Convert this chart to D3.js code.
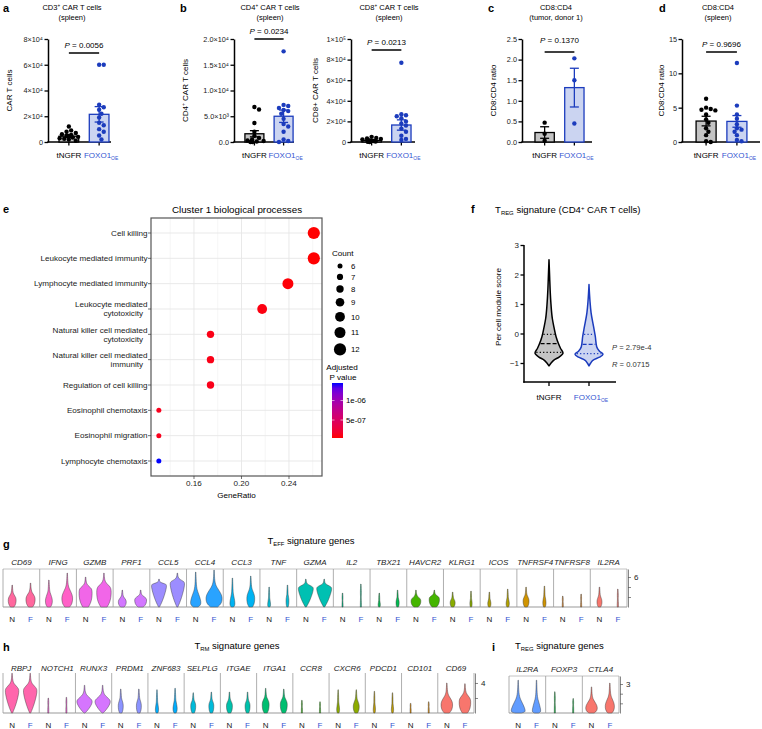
<!DOCTYPE html>
<html><head><meta charset="utf-8">
<script src="https://cdn.jsdelivr.net/npm/d3@7"></script>
<style>body{margin:0;background:#fff}svg{font-family:"Liberation Sans",Arial,sans-serif}</style>
</head><body>
<svg id="fig" width="762" height="729"></svg>
<script>
// ---------------- DATA ----------------
const groups = ["tNGFR", "FOXO1"];
// a: CD3+ CAR T cells (x10^4)
const aTicks = [0, 2, 4, 6, 8];
const aTickLabels = ["0", "2×10⁴", "4×10⁴", "6×10⁴", "8×10⁴"];
const aMeans = [0.45, 2.15];
const aSems = [0.1, 0.6];
const aDotsN = [1.2, 0.9, 0.8, 0.7, 0.6, 0.55, 0.5, 0.45, 0.4, 0.35, 0.3, 0.25, 0.2, 0.1];
const aDotsF = [6.0, 6.0, 2.9, 2.7, 2.5, 2.2, 1.9, 1.5, 1.3, 1.0, 0.8, 0.5, 0.2];
// b: CD4+ CAR T cells (x10^4)
const b4Ticks = [0, 0.5, 1.0, 1.5, 2.0];
const b4TickLabels = ["0.0", "5.0×10³", "1.0×10⁴", "1.5×10⁴", "2.0×10⁴"];
const b4Means = [0.16, 0.5];
const b4Sems = [0.06, 0.12];
const b4DotsN = [0.68, 0.63, 0.37, 0.2, 0.12, 0.08, 0.05, 0.03, 0.02, 0.01, 0.0, 0.0];
const b4DotsF = [1.76, 0.72, 0.7, 0.66, 0.62, 0.6, 0.55, 0.45, 0.35, 0.3, 0.2, 0.05, 0.02, 0.0];
// b: CD8+ CAR T cells (x10^4)
const b8Ticks = [0, 2, 4, 6, 8, 10];
const b8TickLabels = ["0", "2×10⁴", "4×10⁴", "6×10⁴", "8×10⁴", "1×10⁵"];
const b8Means = [0.15, 1.65];
const b8Sems = [0.05, 0.5];
const b8DotsN = [0.5, 0.4, 0.35, 0.3, 0.25, 0.2, 0.15, 0.1, 0.1, 0.05, 0.02, 0.0];
const b8DotsF = [7.7, 2.7, 2.6, 2.5, 2.3, 2.0, 1.8, 1.6, 1.3, 1.0, 0.6, 0.3, 0.2];
// c: CD8:CD4 tumor
const cTicks = [0, 0.5, 1.0, 1.5, 2.0, 2.5];
const cTickLabels = ["0.0", "0.5", "1.0", "1.5", "2.0", "2.5"];
const cMeans = [0.23, 1.32];
const cSems = [0.14, 0.47];
const cDotsN = [0.47, 0.2, 0.03];
const cDotsF = [2.03, 1.5, 0.45];
// d: CD8:CD4 spleen
const dTicks = [0, 5, 10, 15];
const dTickLabels = ["0", "5", "10", "15"];
const dMeans = [3.05, 3.0];
const dSems = [0.7, 0.85];
const dDotsN = [6.3, 5.0, 4.8, 4.7, 4.6, 4.0, 3.3, 2.8, 2.0, 1.5, 1.0, 0.1, 0.0];
const dDotsF = [11.5, 5.3, 4.0, 3.4, 2.6, 2.0, 1.8, 1.5, 1.0, 0.3, 0.1];
const pValues = ["0.0056", "0.0234", "0.0213", "0.1370", "0.9696"];

// e: GO dot plot
const eCats = ["Cell killing", "Leukocyte mediated immunity", "Lymphocyte mediated immunity",
  "Leukocyte mediated|cytotoxicity", "Natural killer cell mediated|cytotoxicity",
  "Natural killer cell mediated|immunity", "Regulation of cell killing",
  "Eosinophil chemotaxis", "Eosinophil migration", "Lymphocyte chemotaxis"];
const eRatio = [0.2609, 0.2609, 0.2391, 0.2174, 0.1739, 0.1739, 0.1739, 0.1304, 0.1304, 0.1304];
const eCount = [12, 12, 11, 10, 8, 8, 8, 6, 6, 6];
const ePadj = [3.9e-8, 4.2e-8, 5.5e-8, 8.0e-8, 9.5e-8, 1.0e-7, 1.1e-7, 1.2e-7, 1.2e-7, 1.45e-6];
const eXTicks = [0.16, 0.20, 0.24];
const eXMinor = [0.14, 0.18, 0.22, 0.26];
const eCountLegend = [6, 7, 8, 9, 10, 11, 12];
const ePLegend = [5e-7, 1e-6];
const ePLegendLabels = ["5e-07", "1e-06"];

// f: TREG signature violins (value, relative half-width)
const fTicks = [-1, 0, 1, 2, 3];
const fProfileN = [[-1.1, 0], [-1.0, 0.15], [-0.9, 0.35], [-0.8, 0.72], [-0.66, 1.0], [-0.5, 0.82],
  [-0.35, 0.68], [-0.1, 0.5], [0.2, 0.36], [0.5, 0.24], [1.0, 0.14], [1.5, 0.08], [2.0, 0.04], [2.5, 0]];
const fProfileF = [[-1.1, 0], [-1.0, 0.12], [-0.9, 0.3], [-0.8, 0.75], [-0.7, 1.0], [-0.6, 0.75],
  [-0.45, 0.55], [-0.1, 0.45], [0.25, 0.32], [0.7, 0.15], [1.1, 0.07], [1.66, 0]];
const fMedian = [-0.34, -0.37];
const fQ1 = [-0.64, -0.68];
const fQ3 = [-0.03, -0.03];

// g: TEFF signature genes (N = tNGFR, F = FOXO1OE)
const gGenes = ["CD69", "IFNG", "GZMB", "PRF1", "CCL5", "CCL4", "CCL3", "TNF", "GZMA", "IL2", "TBX21",
  "HAVCR2", "KLRG1", "ICOS", "TNFRSF4", "TNFRSF8", "IL2RA"];
const gTopN = [4.4, 5.4, 6.0, 3.4, 5.6, 7.0, 5.8, 4.0, 5.6, 2.8, 2.8, 3.4, 3.0, 3.0, 4.0, 2.2, 4.0];
const gBodyN = [1.6, 1.4, 3.4, 1.2, 4.4, 1.0, 0.8, 0.5, 3.8, 0.5, 0.5, 1.4, 1.0, 0.8, 1.4, 0.5, 1.2];
const gWidN = [0.47, 0.41, 0.79, 0.47, 0.98, 0.62, 0.29, 0.16, 0.98, 0.05, 0.12, 0.59, 0.29, 0.18, 0.35, 0.05, 0.29];
const gTopF = [4.8, 6.8, 6.8, 3.4, 6.8, 7.4, 6.2, 4.4, 5.6, 4.6, 3.4, 3.4, 3.2, 3.6, 4.2, 2.6, 3.6];
const gBodyF = [1.8, 2.0, 3.6, 1.6, 4.8, 2.0, 2.0, 1.4, 3.8, 0.5, 1.0, 1.8, 0.8, 0.8, 1.0, 0.5, 0.5];
const gWidF = [0.55, 0.65, 0.88, 0.72, 0.94, 0.98, 0.47, 0.16, 0.98, 0.05, 0.18, 0.62, 0.12, 0.18, 0.18, 0.05, 0.06];
const gAxisTicks = [2, 4, 6];
// h: TRM signature genes
const hGenes = ["RBPJ", "NOTCH1", "RUNX3", "PRDM1", "ZNF683", "SELPLG", "ITGAE", "ITGA1", "CCR8", "CXCR6",
  "PDCD1", "CD101", "CD69"];
const hTopN = [5.3, 2.0, 3.7, 3.2, 3.1, 2.7, 2.8, 3.3, 1.7, 3.1, 2.9, 1.3, 4.0];
const hBodyN = [3.0, 0.5, 1.5, 1.1, 0.5, 1.1, 1.1, 1.3, 0.5, 0.5, 0.5, 0.5, 1.3];
const hWidN = [0.88, 0.05, 1.0, 0.29, 0.18, 0.29, 0.35, 0.41, 0.05, 0.16, 0.12, 0.05, 0.7];
const hTopF = [5.3, 2.1, 3.7, 3.2, 3.3, 2.8, 2.8, 3.2, 1.5, 3.1, 2.7, 1.5, 3.9];
const hBodyF = [3.0, 0.5, 1.5, 1.1, 0.7, 1.1, 1.1, 1.3, 0.5, 1.0, 0.5, 0.5, 1.7];
const hWidF = [0.88, 0.05, 1.0, 0.29, 0.24, 0.29, 0.29, 0.41, 0.05, 0.35, 0.12, 0.05, 0.7];
const hAxisTicks = [2, 4];
// i: TREG signature genes
const iGenes = ["IL2RA", "FOXP3", "CTLA4"];
const iTopN = [3.4, 2.2, 2.7];
const iBodyN = [0.25, 0.5, 0.6];
const iWidN = [0.85, 0.05, 0.7];
const iTopF = [3.4, 1.5, 3.1];
const iBodyF = [0.25, 0.5, 0.8];
const iWidF = [0.5, 0.05, 0.55];
const iAxisTicks = [1, 2, 3];
const vShaped = ["CCL5", "GZMA", "RBPJ", "RUNX3"];

// ---------------- HELPERS ----------------
const svg = d3.select("#fig");
const BLUE = "#1c3cbd", BLUE_TXT = "#3454d1", BLUE_FILL = "#cbd4f1", GRAY_FILL = "#c4c4c4";

function rich(parent, x, y, parts, attrs) {
  const t = parent.append("text").attr("x", x).attr("y", y);
  for (const k in (attrs || {})) t.attr(k, attrs[k]);
  let shift = 0;
  parts.forEach(p => {
    const s = t.append("tspan").text(p.t);
    const target = p.sub ? 2 : (p.sup ? -3 : 0);
    if (target !== shift) { s.attr("dy", target - shift); shift = target; }
    if (p.sub || p.sup) s.attr("font-size", "0.62em");
    if (p.italic) s.attr("font-style", "italic");
    if (p.fill) s.attr("fill", p.fill);
  });
  return t;
}
function letter(ch, x, y) {
  svg.append("text").attr("x", x).attr("y", y).attr("font-size", 11).attr("font-weight", "bold").text(ch);
}
function swarm(vals, yScale, r, maxOff) {
  const placed = [];
  return vals.map((v, idx) => {
    const py = yScale(v);
    let off = null;
    for (let k = 0; k < 30; k++) {
      const cand = k === 0 ? 0 : (k % 2 ? 1 : -1) * Math.ceil(k / 2) * r * 1.05;
      if (Math.abs(cand) > maxOff) break;
      if (placed.every(p => (p.x - cand) ** 2 + (p.y - py) ** 2 >= (2 * r * 0.92) ** 2)) { off = cand; break; }
    }
    if (off === null) off = ((idx % 5) - 2) * r * 0.9;
    placed.push({ x: off, y: py });
    return off;
  });
}
function hueColor(h) {
  const L = 65, C = 100, hr = h * Math.PI / 180;
  const u = C * Math.cos(hr), v = C * Math.sin(hr);
  const Xn = 95.047, Yn = 100, Zn = 108.883;
  const den = Xn + 15 * Yn + 3 * Zn, un = 4 * Xn / den, vn = 9 * Yn / den;
  const Y = Yn * Math.pow((L + 16) / 116, 3);
  const up = u / (13 * L) + un, vp = v / (13 * L) + vn;
  const X = Y * 9 * up / (4 * vp), Z = Y * (12 - 3 * up - 20 * vp) / (4 * vp);
  const x = X / 100, y = Y / 100, z = Z / 100;
  const r = 3.2404542 * x - 1.5371385 * y - 0.4985314 * z;
  const g = -0.9692660 * x + 1.8760108 * y + 0.0415560 * z;
  const b = 0.0556434 * x - 0.2040259 * y + 1.0572252 * z;
  const gam = c => { c = c <= 0.0031308 ? 12.92 * c : 1.055 * Math.pow(c, 1 / 2.4) - 0.055; return Math.round(255 * Math.max(0, Math.min(1, c))); };
  return d3.rgb(gam(r), gam(g), gam(b)).formatHex();
}

// ---------------- BAR PANELS ----------------
function barPanel(o) {
  const g = svg.append("g");
  const y = d3.scaleLinear().domain([0, o.max]).range([142, 39]);
  const x = d3.scaleBand().domain(groups).range(o.band).paddingInner(0.35).paddingOuter(0.1);
  const cx = d => x(d) + x.bandwidth() / 2;
  const ax = g.append("g").attr("transform", `translate(${o.axisX},0)`)
    .call(d3.axisLeft(y).tickValues(o.ticks).tickFormat((d, i) => o.tickLabels[i]).tickSize(3.5).tickSizeOuter(0));
  ax.select(".domain").attr("stroke-width", 1.5);
  ax.selectAll(".tick line").attr("stroke-width", 1.3);
  ax.selectAll("text").attr("font-size", 7.3).attr("font-family", "Liberation Sans, Arial").attr("fill", "#222").attr("x", -5);
  g.append("line").attr("x1", o.axisX - 0.75).attr("x2", o.axisEnd).attr("y1", y(0)).attr("y2", y(0))
    .attr("stroke", "#000").attr("stroke-width", 1.5);
  g.selectAll(".xt").data(groups).join("line").attr("x1", cx).attr("x2", cx)
    .attr("y1", y(0)).attr("y2", y(0) + 3.5).attr("stroke", "#000").attr("stroke-width", 1.3);
  const dots = [o.dotsN, o.dotsF];
  groups.forEach((grp, i) => {
    const col = i ? BLUE : "#000";
    g.append("rect").attr("x", x(grp)).attr("width", x.bandwidth()).attr("y", y(o.means[i]))
      .attr("height", y(0) - y(o.means[i])).attr("fill", i ? BLUE_FILL : GRAY_FILL).attr("stroke", col).attr("stroke-width", 1.3);
    const offs = swarm(dots[i], y, 2.2, x.bandwidth() / 2 + 1);
    g.selectAll(".dot" + i).data(dots[i]).join("circle").attr("cx", (d, j) => cx(grp) + offs[j]).attr("cy", d => y(d))
      .attr("r", 2.2).attr("fill", col);
    const lo = Math.max(0, o.means[i] - o.sems[i]), hi = o.means[i] + o.sems[i];
    g.append("line").attr("x1", cx(grp)).attr("x2", cx(grp)).attr("y1", y(lo)).attr("y2", y(hi)).attr("stroke", col).attr("stroke-width", 1.3);
    [lo, hi].forEach(v => g.append("line").attr("x1", cx(grp) - 4.5).attr("x2", cx(grp) + 4.5).attr("y1", y(v)).attr("y2", y(v))
      .attr("stroke", col).attr("stroke-width", 1.3));
  });
  g.append("text").attr("x", cx("tNGFR")).attr("y", 158).attr("text-anchor", "middle").attr("font-size", 8).text("tNGFR");
  rich(g, cx("FOXO1") + 2, 158, [{ t: "FOXO1" }, { t: "OE", sub: true }], { "text-anchor": "middle", "font-size": 8, fill: BLUE_TXT });
  g.append("line").attr("x1", cx("tNGFR")).attr("x2", cx("FOXO1")).attr("y1", o.brY).attr("y2", o.brY).attr("stroke", "#000").attr("stroke-width", 1.5);
  rich(g, (cx("tNGFR") + cx("FOXO1")) / 2, o.pY, [{ t: "P", italic: true }, { t: " = " + o.p }], { "text-anchor": "middle", "font-size": 8 });
  o.title.forEach((line, k) => rich(g, o.titleX, 10 + k * 10, line, { "text-anchor": "middle", "font-size": 7.5 }));
  const yl = g.append("g").attr("transform", `translate(${o.ylabX},${(39 + 142) / 2}) rotate(-90)`);
  rich(yl, 0, 0, o.ylab, { "text-anchor": "middle", "font-size": 8 });
}

barPanel({ max: 8, ticks: aTicks, tickLabels: aTickLabels, means: aMeans, sems: aSems, dotsN: aDotsN, dotsF: aDotsF,
  axisX: 48, axisEnd: 111, band: [56, 112], p: pValues[0], pY: 48, brY: 53, titleX: 72,
  title: [[{ t: "CD3" }, { t: "+", sup: true }, { t: " CAR T cells" }], [{ t: "(spleen)" }]],
  ylab: [{ t: "CAR T cells" }], ylabX: 12 });
barPanel({ max: 2, ticks: b4Ticks, tickLabels: b4TickLabels, means: b4Means, sems: b4Sems, dotsN: b4DotsN, dotsF: b4DotsF,
  axisX: 234, axisEnd: 294, band: [242, 296], p: pValues[1], pY: 34, brY: 39, titleX: 270,
  title: [[{ t: "CD4" }, { t: "+", sup: true }, { t: " CAR T cells" }], [{ t: "(spleen)" }]],
  ylab: [{ t: "CD4" }, { t: "+", sup: true }, { t: " CAR T cells" }], ylabX: 188 });
barPanel({ max: 10, ticks: b8Ticks, tickLabels: b8TickLabels, means: b8Means, sems: b8Sems, dotsN: b8DotsN, dotsF: b8DotsF,
  axisX: 351, axisEnd: 415, band: [359, 414], p: pValues[2], pY: 45, brY: 50, titleX: 389,
  title: [[{ t: "CD8" }, { t: "+", sup: true }, { t: " CAR T cells" }], [{ t: "(spleen)" }]],
  ylab: [{ t: "CD8+ CAR T cells" }], ylabX: 318 });
barPanel({ max: 2.5, ticks: cTicks, tickLabels: cTickLabels, means: cMeans, sems: cSems, dotsN: cDotsN, dotsF: cDotsF,
  axisX: 522, axisEnd: 592, band: [532, 587], p: pValues[3], pY: 43, brY: 52, titleX: 556,
  title: [[{ t: "CD8:CD4" }], [{ t: "(tumor, donor 1)" }]],
  ylab: [{ t: "CD8:CD4 ratio" }], ylabX: 496 });
barPanel({ max: 15, ticks: dTicks, tickLabels: dTickLabels, means: dMeans, sems: dSems, dotsN: dDotsN, dotsF: dDotsF,
  axisX: 682, axisEnd: 760, band: [693, 750], p: pValues[4], pY: 47, brY: 52, titleX: 718,
  title: [[{ t: "CD8:CD4" }], [{ t: "(spleen)" }]],
  ylab: [{ t: "CD8:CD4 ratio" }], ylabX: 664 });

letter("a", 3, 12); letter("b", 180, 12); letter("c", 488, 12); letter("d", 659, 12);

// ---------------- PANEL E ----------------
(function () {
  const g = svg.append("g");
  const L = 151, R = 322, T = 218, B = 476;
  const FS = 8.1;
  const x = d3.scaleLinear().domain([0.1238, 0.2678]).range([L, R]);
  const y = d3.scalePoint().domain(eCats).range([233, 461]);
  const size = d3.scaleLinear().domain([6, 12]).range([2.5, 6.1]);
  const pmin = d3.min(ePadj), pmax = d3.max(ePadj);
  const color = d3.scaleLinear().domain([pmin, pmax]).range(["#ff0000", "#0000ff"]).interpolate(d3.interpolateLab);
  g.append("rect").attr("x", L).attr("y", T).attr("width", R - L).attr("height", B - T).attr("fill", "#fff");
  eXMinor.forEach(v => g.append("line").attr("x1", x(v)).attr("x2", x(v)).attr("y1", T).attr("y2", B).attr("stroke", "#f0f0f0").attr("stroke-width", 0.6));
  eXTicks.forEach(v => g.append("line").attr("x1", x(v)).attr("x2", x(v)).attr("y1", T).attr("y2", B).attr("stroke", "#e6e6e6").attr("stroke-width", 0.9));
  eCats.forEach(c => g.append("line").attr("x1", L).attr("x2", R).attr("y1", y(c)).attr("y2", y(c)).attr("stroke", "#e6e6e6").attr("stroke-width", 0.9));
  g.append("rect").attr("x", L).attr("y", T).attr("width", R - L).attr("height", B - T).attr("fill", "none").attr("stroke", "#555").attr("stroke-width", 1.2);
  g.selectAll(".pt").data(eCats).join("circle").attr("cx", (d, i) => x(eRatio[i])).attr("cy", d => y(d))
    .attr("r", (d, i) => size(eCount[i])).attr("fill", (d, i) => color(ePadj[i]));
  eCats.forEach(c => {
    const lines = c.split("|");
    g.append("line").attr("x1", L - 3).attr("x2", L).attr("y1", y(c)).attr("y2", y(c)).attr("stroke", "#333").attr("stroke-width", 0.7);
    if (lines.length === 1) {
      g.append("text").attr("x", L - 3.5).attr("y", y(c) + 2.8).attr("text-anchor", "end").attr("font-size", FS).attr("fill", "#222").text(lines[0]);
    } else {
      g.append("text").attr("x", L - 3.5).attr("y", y(c) - 1.8).attr("text-anchor", "end").attr("font-size", FS).attr("fill", "#222").text(lines[0]);
      g.append("text").attr("x", L - 8).attr("y", y(c) + 7.3).attr("text-anchor", "end").attr("font-size", FS).attr("fill", "#222").text(lines[1]);
    }
  });
  eXTicks.forEach(v => {
    g.append("line").attr("x1", x(v)).attr("x2", x(v)).attr("y1", B).attr("y2", B + 3).attr("stroke", "#333").attr("stroke-width", 0.7);
    g.append("text").attr("x", x(v)).attr("y", B + 10).attr("text-anchor", "middle").attr("font-size", FS).attr("fill", "#222").text(v.toFixed(2));
  });
  g.append("text").attr("x", (L + R) / 2).attr("y", 498).attr("text-anchor", "middle").attr("font-size", FS).text("GeneRatio");
  g.append("text").attr("x", 237).attr("y", 213).attr("text-anchor", "middle").attr("font-size", 9.8).text("Cluster 1 biological processes");
  g.append("text").attr("x", 332).attr("y", 256).attr("font-size", FS).text("Count");
  let cy = 266;
  eCountLegend.forEach((c, i) => {
    if (i > 0) cy += size(eCountLegend[i - 1]) + size(c) + 5.3;
    g.append("circle").attr("cx", 340).attr("cy", cy).attr("r", size(c)).attr("fill", "#000");
    g.append("text").attr("x", 351).attr("y", cy + 2.8).attr("font-size", 7.8).text(c);
  });
  g.append("text").attr("x", 342).attr("y", 370).attr("text-anchor", "middle").attr("font-size", FS).text("Adjusted");
  g.append("text").attr("x", 343).attr("y", 380).attr("text-anchor", "middle").attr("font-size", FS).text("P value");
  const cb = d3.scaleLinear().domain([pmin, pmax]).range([438, 383]);
  const defs = svg.append("defs");
  const grad = defs.append("linearGradient").attr("id", "pgrad").attr("x1", 0).attr("x2", 0).attr("y1", 1).attr("y2", 0);
  d3.range(0, 1.0001, 0.1).forEach(t => grad.append("stop").attr("offset", t).attr("stop-color", color(pmin + t * (pmax - pmin))));
  g.append("rect").attr("x", 332).attr("y", 383).attr("width", 11).attr("height", 55).attr("fill", "url(#pgrad)");
  ePLegend.forEach((v, i) => {
    g.append("line").attr("x1", 332).attr("x2", 334.5).attr("y1", cb(v)).attr("y2", cb(v)).attr("stroke", "#fff").attr("stroke-width", 0.6);
    g.append("line").attr("x1", 340.5).attr("x2", 343).attr("y1", cb(v)).attr("y2", cb(v)).attr("stroke", "#fff").attr("stroke-width", 0.6);
    g.append("text").attr("x", 346).attr("y", cb(v) + 2.8).attr("font-size", 7.8).text(ePLegendLabels[i]);
  });
})();
letter("e", 3, 213);

// ---------------- PANEL F ----------------
(function () {
  const g = svg.append("g");
  const y = d3.scaleLinear().domain([-1, 3]).range([363, 245]);
  const x = d3.scaleBand().domain(groups).range([529, 609]);
  const cx = d => x(d) + x.bandwidth() / 2;
  const w = d3.scaleLinear().domain([0, 1]).range([0, 14]);
  const ax = g.append("g").attr("transform", "translate(524,0)")
    .call(d3.axisLeft(y).tickValues(fTicks).tickFormat(d3.format("d")).tickSize(3.5).tickSizeOuter(0));
  ax.select(".domain").attr("stroke-width", 1.5).attr("d", `M0,${y(3)}V382.7`);
  ax.selectAll(".tick line").attr("stroke-width", 1.3);
  ax.selectAll("text").attr("font-size", 8).attr("font-family", "Liberation Sans, Arial").attr("fill", "#222").attr("x", -5);
  g.append("line").attr("x1", 523.25).attr("x2", 616).attr("y1", 382).attr("y2", 382).attr("stroke", "#000").attr("stroke-width", 1.5);
  g.selectAll(".xt").data(groups).join("line").attr("x1", cx).attr("x2", cx).attr("y1", 382).attr("y2", 386).attr("stroke", "#000").attr("stroke-width", 1.3);
  const profs = [fProfileN, fProfileF];
  const area = d3.area().curve(d3.curveMonotoneY).y(d => y(d[0]));
  groups.forEach((grp, i) => {
    const col = i ? BLUE : "#000";
    const c = cx(grp);
    g.append("path").datum(profs[i]).attr("d", area.x0(d => c - w(d[1])).x1(d => c + w(d[1])))
      .attr("fill", i ? BLUE_FILL : GRAY_FILL).attr("stroke", col).attr("stroke-width", 1.5).attr("stroke-linejoin", "round");
    const hw = d3.scaleLinear().domain(profs[i].map(d => d[0])).range(profs[i].map(d => d[1]));
    [[fMedian[i], "4,2", 1.3], [fQ1[i], "1.2,2.2", 1.2], [fQ3[i], "1.2,2.2", 1.2]].forEach(([v, dash, sw]) => {
      const hh = w(hw(v)) - 1;
      g.append("line").attr("x1", c - hh).attr("x2", c + hh).attr("y1", y(v)).attr("y2", y(v))
        .attr("stroke", col).attr("stroke-width", sw).attr("stroke-dasharray", dash);
    });
  });
  g.append("text").attr("x", cx("tNGFR")).attr("y", 400).attr("text-anchor", "middle").attr("font-size", 8).text("tNGFR");
  rich(g, cx("FOXO1") + 2, 400, [{ t: "FOXO1" }, { t: "OE", sub: true }], { "text-anchor": "middle", "font-size": 8, fill: BLUE_TXT });
  rich(g, 612, 350, [{ t: "P", italic: true }, { t: " = 2.79e-4" }], { "font-size": 7.6, fill: "#333" });
  rich(g, 612, 367, [{ t: "R", italic: true }, { t: " = 0.0715" }], { "font-size": 7.6, fill: "#333" });
  rich(g, 495, 213, [{ t: "T" }, { t: "REG", sub: true }, { t: " signature (CD4" }, { t: "+", sup: true }, { t: " CAR T cells)" }], { "font-size": 9.6 });
  const yl = g.append("g").attr("transform", "translate(501,307) rotate(-90)");
  yl.append("text").attr("text-anchor", "middle").attr("font-size", 8.1).text("Per cell module score");
})();
letter("f", 471, 213);

// ---------------- STACKED VIOLINS ----------------
function stack(o) {
  const g = svg.append("g");
  const n = o.genes.length;
  const xb = d3.scaleBand().domain(o.genes).range([o.x0, o.x1]);
  const sub = d3.scalePoint().domain(["N", "F"]).range([0, xb.bandwidth()]).padding(0.5);
  const y = d3.scaleLinear().domain([0, o.yMax]).range([o.bottom, o.top]);
  const w = d3.scaleLinear().domain([0, 1]).range([0, 8.5]);
  const area = d3.area().curve(d3.curveBasis).y(d => y(d[0]));
  function prof(t, b, wd, vs) {
    const base = vs ? 0.04 : Math.max(wd * 0.4, 0.05);
    if (b >= t) b = t * 0.3;
    return [[0, base], [0, base], [b * 0.35, vs ? wd * 0.5 : wd * 0.9], [b, wd], [b + (t - b) * 0.18, wd * 0.72],
      [b + (t - b) * 0.36, wd * 0.3], [b + (t - b) * 0.55, Math.min(wd, 0.05)], [t, 0.01], [t, 0]];
  }
  o.genes.forEach((gene, i) => {
    const col = hueColor(15 + (n - 1 - i) * 360 / n);
    const vs = vShaped.includes(gene);
    const x0 = xb(gene);
    if (o.topLine) g.append("line").attr("x1", x0).attr("x2", x0 + xb.bandwidth()).attr("y1", o.top).attr("y2", o.top).attr("stroke", "#b5b5b5").attr("stroke-width", 0.8);
    g.append("line").attr("x1", x0).attr("x2", x0).attr("y1", o.top).attr("y2", o.bottom).attr("stroke", "#9a9a9a").attr("stroke-width", 0.8);
    g.append("line").attr("x1", x0).attr("x2", x0 + xb.bandwidth()).attr("y1", o.bottom).attr("y2", o.bottom).attr("stroke", "#999").attr("stroke-width", 1);
    [["N", o.topN, o.bodyN, o.widN], ["F", o.topF, o.bodyF, o.widF]].forEach(([k, tp, bd, wd]) => {
      const c = x0 + sub(k);
      g.append("path").datum(prof(tp[i], bd[i], wd[i], vs))
        .attr("d", area.x0(d => c - w(d[1]) - 0.15).x1(d => c + w(d[1]) + 0.15))
        .attr("fill", col).attr("stroke", "#3a3a3a").attr("stroke-width", 0.45);
      g.append("text").attr("x", c).attr("y", o.nfY).attr("text-anchor", "middle").attr("font-size", 8)
        .attr("fill", k === "N" ? "#222" : BLUE_TXT).text(k);
    });
    g.append("text").attr("x", x0 + xb.bandwidth() / 2).attr("y", o.labelY).attr("text-anchor", "middle")
      .attr("font-size", 8).attr("font-style", "italic").attr("fill", "#222").text(gene);
  });
  g.append("line").attr("x1", o.x1).attr("x2", o.x1).attr("y1", o.top).attr("y2", o.bottom).attr("stroke", "#9a9a9a").attr("stroke-width", 0.8);
  const ax = g.append("g").attr("transform", `translate(${o.x1 + 1},0)`)
    .call(d3.axisRight(y).tickValues(o.ticks).tickSize(3).tickSizeOuter(0)
      .tickFormat(d => d === o.ticks[o.ticks.length - 1] ? d : ""));
  ax.select(".domain").attr("stroke", "#555").attr("stroke-width", 0.7);
  ax.selectAll(".tick line").attr("stroke", "#555").attr("stroke-width", 0.7);
  ax.selectAll("text").attr("font-size", 8).attr("font-family", "Liberation Sans, Arial").attr("fill", "#222");
  rich(g, o.titleX, o.titleY, o.title, { "font-size": 9.5, "text-anchor": o.titleAnchor || "middle" });
}
stack({ genes: gGenes, topN: gTopN, bodyN: gBodyN, widN: gWidN, topF: gTopF, bodyF: gBodyF, widF: gWidF,
  x0: 3, x1: 627, top: 569, bottom: 607, yMax: 7.6, ticks: gAxisTicks, labelY: 565, nfY: 622, topLine: true,
  title: [{ t: "T" }, { t: "EFF", sub: true }, { t: " signature genes" }], titleX: 311, titleY: 544 });
stack({ genes: hGenes, topN: hTopN, bodyN: hBodyN, widN: hWidN, topF: hTopF, bodyF: hBodyF, widF: hWidF,
  x0: 3, x1: 474, top: 673, bottom: 713, yMax: 5.33, ticks: hAxisTicks, labelY: 670.5, nfY: 728, topLine: false,
  title: [{ t: "T" }, { t: "RM", sub: true }, { t: " signature genes" }], titleX: 237, titleY: 649 });
stack({ genes: iGenes, topN: iTopN, bodyN: iBodyN, widN: iWidN, topF: iTopF, bodyF: iBodyF, widF: iWidF,
  x0: 509, x1: 619, top: 676, bottom: 713, yMax: 3.83, ticks: iAxisTicks, labelY: 672, nfY: 728, topLine: true,
  title: [{ t: "T" }, { t: "REG", sub: true }, { t: " signature genes" }], titleX: 515, titleY: 649, titleAnchor: "start" });
letter("g", 3, 548); letter("h", 3, 651); letter("i", 492, 651);
</script>
</body></html>
